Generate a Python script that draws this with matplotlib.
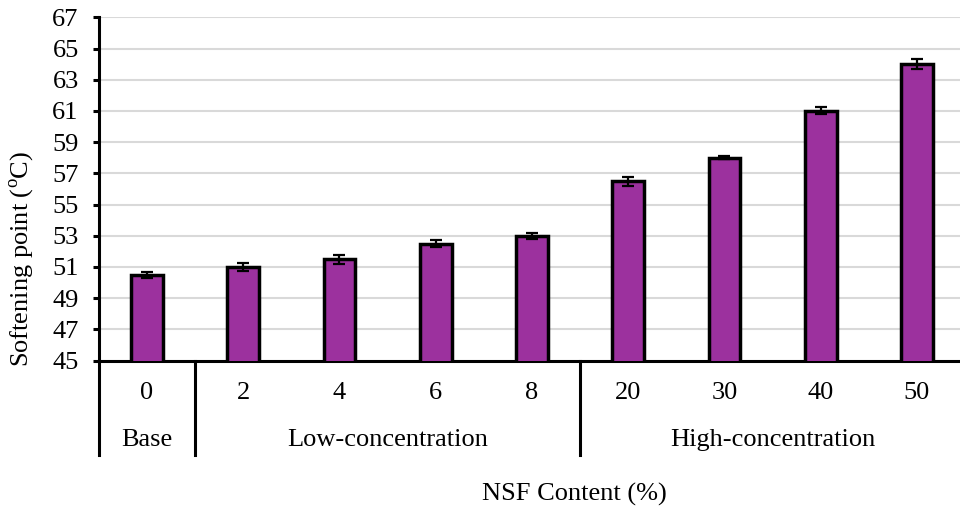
import matplotlib
matplotlib.use("Agg")
import matplotlib.pyplot as plt
import matplotlib.transforms as mtransforms

# data
contents = ["0", "2", "4", "6", "8", "20", "30", "40", "50"]
softening = [50.5, 51.0, 51.5, 52.5, 53.0, 56.5, 58.0, 61.0, 64.0]
errors = [0.2, 0.24, 0.29, 0.2, 0.2, 0.29, 0.08, 0.22, 0.31]
groups = ["Base", "Low-concentration", "High-concentration"]
group_sizes = [1, 4, 4]

plt.rcParams["font.family"] = ["Liberation Serif", "DejaVu Serif"]
plt.rcParams["mathtext.fontset"] = "custom"
plt.rcParams["mathtext.rm"] = "Liberation Serif"

fig = plt.figure(figsize=(9.6, 5.18), dpi=100)
W, H = 960, 518
left, right, top, bottom = 98.8, 965, 17.3, 360.5
ax = fig.add_axes([left / W, 1 - bottom / H, (right - left) / W, (bottom - top) / H])

x = list(range(len(contents)))
ax.bar(x, softening, width=0.33, color="#9C319E", edgecolor="black",
       linewidth=2.5, zorder=3)
ax.errorbar(x, softening, yerr=errors, fmt="none", ecolor="black",
            elinewidth=1.6, capsize=4.5, capthick=1.6, zorder=4)

ax.set_ylim(45, 67)
ax.set_xlim(-0.5, len(contents) - 0.5)
ax.set_yticks(range(45, 68, 2))
ax.tick_params(axis="y", labelsize=19, width=2.2, length=4.5, direction="out", pad=10)
ax.set_xticks([])
ax.yaxis.grid(True, color="#D9D9D9", linewidth=1.5, zorder=0)
ax.set_axisbelow(True)
for s in ["top", "right"]:
    ax.spines[s].set_visible(False)
ax.spines["left"].set_linewidth(2.2)
ax.spines["bottom"].set_linewidth(2.2)

# multi-level category labels
trans = mtransforms.blended_transform_factory(ax.transData, ax.transAxes)
for xi, lab in zip(x, contents):
    ax.text(xi, -0.0947, lab, transform=trans, ha="center", va="center", fontsize=19)

start = 0
bounds = [-0.5]
for g, n in zip(groups, group_sizes):
    center = start + (n - 1) / 2
    ax.text(center, -0.2316, g, transform=trans, ha="center", va="center", fontsize=19)
    start += n
    bounds.append(start - 0.5)
for b in bounds[:-1]:
    ax.plot([b, b], [0, -0.275], transform=trans, color="black",
            linewidth=2.2, clip_on=False)

fig.text(22 / W, 0.5, r"Softening point ($^{\rm o}$C)", rotation=90,
         ha="center", va="center", fontsize=19)
fig.text(574 / W, 1 - 494 / H, "NSF Content (%)", ha="center", va="center",
         fontsize=19)

fig.savefig("out.png", dpi=100)
